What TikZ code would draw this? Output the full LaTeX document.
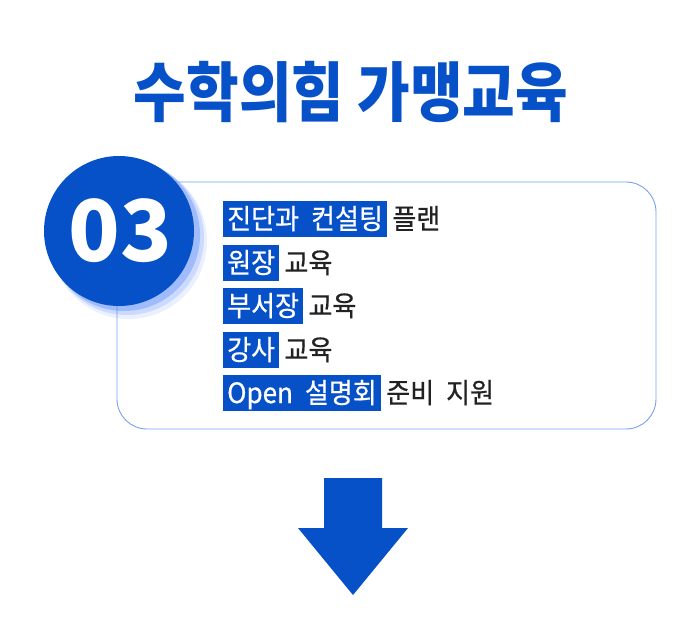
\documentclass[tikz,border=0pt]{standalone}
\usepackage{fontspec}
\setmainfont{Noto Sans CJK KR}
\usetikzlibrary{positioning}
\definecolor{mathblue}{RGB}{6, 80, 200}
\definecolor{mathline}{RGB}{120, 160, 240}
\definecolor{mathglow}{RGB}{80, 130, 250}
\definecolor{mathdark}{RGB}{34, 34, 34}

\newfontfamily\titlefont[FakeStretch=0.88]{Noto Sans CJK KR}
\newfontfamily\itemfont[FakeStretch=0.93, FakeBold=0.6]{Noto Sans CJK KR}
\newcommand{\itemsize}{\itemfont\fontsize{28}{28}\selectfont\spaceskip 12pt\relax}

\tikzset{
  itemtag/.style={fill=mathblue, text=white, anchor=west, inner xsep=4pt, inner ysep=5pt,
    text height=23pt, text depth=3pt, font=\itemsize},
  itemrest/.style={text=mathdark, inner xsep=1pt, inner ysep=5pt,
    text height=23pt, text depth=3pt, font=\itemsize}
}

\begin{document}
\begin{tikzpicture}[x=1pt, y=-1pt]
    \useasboundingbox (0,0) rectangle (700,637);

    % Title
    \node[text=mathblue, font=\titlefont\bfseries\fontsize{65}{65}\selectfont] (title) at (351,92) {수학의힘 가맹교육};

    % Frame
    \draw[mathline, line width=0.9pt, rounded corners=30pt] (117,182) rectangle (656,429);

    % Badge
    \fill[mathglow, opacity=0.12] (129,241) circle (78);
    \fill[mathglow, opacity=0.20] (127,238) circle (77);
    \fill[mathglow, opacity=0.35] (124,235) circle (76);
    \fill[mathblue] (119,231) circle (75);
    \node[text=white, font=\bfseries\fontsize{85}{85}\selectfont, inner sep=0pt] (badge) at (120,231) {03};

    % Items
    \node[itemtag] (tag1) at (223,219) {진단과 컨설팅};
    \node[itemrest, right=4pt of tag1] (rest1) {플랜};
    \node[itemtag] (tag2) at (223,263) {원장};
    \node[itemrest, right=4pt of tag2] (rest2) {교육};
    \node[itemtag] (tag3) at (223,306) {부서장};
    \node[itemrest, right=4pt of tag3] (rest3) {교육};
    \node[itemtag] (tag4) at (223,350) {강사};
    \node[itemrest, right=4pt of tag4] (rest4) {교육};
    \node[itemtag] (tag5) at (223,393) {Open 설명회};
    \node[itemrest, right=4pt of tag5] (rest5) {준비 지원};

    % Arrow
    \fill[mathblue] (324,478) -- (382,478) -- (382,528) -- (408,528) -- (353,595)
        -- (298,528) -- (324,528) -- cycle;
\end{tikzpicture}
\end{document}
